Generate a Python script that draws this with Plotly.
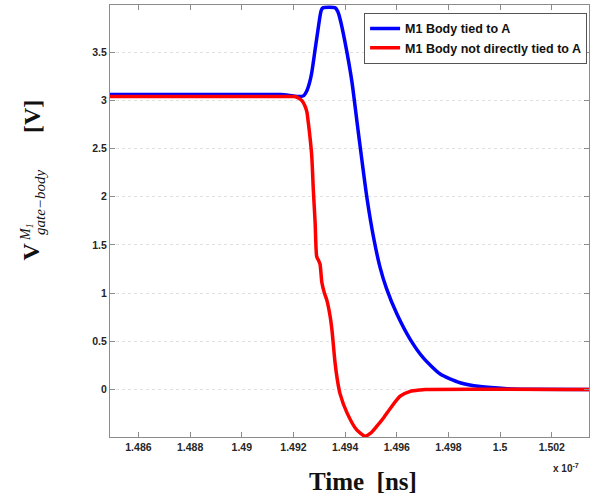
import plotly.graph_objects as go

# time axis in units of 1e-7 s
t_blue = [1.4849, 1.4900, 1.4915, 1.4920, 1.49225, 1.49240, 1.49252, 1.49262, 1.49271,
          1.49284, 1.49297, 1.49307, 1.49314, 1.49362, 1.49372, 1.49381, 1.49400, 1.49426,
          1.49445, 1.49465, 1.49485, 1.49510, 1.49535, 1.49560, 1.49601, 1.49652, 1.49702,
          1.49768, 1.49845, 1.49923, 1.50027, 1.5010, 1.50344]
v_blue = [3.06, 3.06, 3.06, 3.045, 3.04, 3.05, 3.10, 3.18, 3.29,
          3.53, 3.77, 3.93, 3.96, 3.96, 3.92, 3.84, 3.60, 3.20,
          2.80, 2.38, 1.98, 1.58, 1.27, 1.05, 0.78, 0.52, 0.33,
          0.16, 0.07, 0.03, 0.008, 0.002, 0.0]

t_red = [1.4849, 1.4915, 1.49205, 1.49219, 1.49232, 1.49245, 1.49252, 1.49258, 1.49264,
         1.49271, 1.49277, 1.49284, 1.49290, 1.49297, 1.49303, 1.49310, 1.49320, 1.49329,
         1.49342, 1.49349, 1.49355, 1.49361, 1.49370, 1.49380, 1.49407, 1.49445, 1.49477,
         1.49500, 1.49523, 1.49550, 1.49574, 1.49613, 1.49652, 1.49690, 1.49710, 1.50344]
v_red = [3.04, 3.04, 3.04, 3.025, 3.00, 2.94, 2.88, 2.76, 2.62,
         2.42, 2.07, 1.73, 1.38, 1.34, 1.30, 1.11, 1.00, 0.93,
         0.76, 0.62, 0.45, 0.28, 0.10, -0.04, -0.24, -0.42, -0.485,
         -0.45, -0.38, -0.29, -0.20, -0.07, -0.02, -0.005, 0.0, 0.0]

series_names = ["M1 Body tied to A", "M1 Body not directly tied to A"]

x_ticks = [1.486, 1.488, 1.490, 1.492, 1.494, 1.496, 1.498, 1.500, 1.502]
x_tick_labels = ["1.486", "1.488", "1.49", "1.492", "1.494", "1.496", "1.498", "1.5", "1.502"]
y_ticks = [0, 0.5, 1, 1.5, 2, 2.5, 3, 3.5]
y_tick_labels = ["0", "0.5", "1", "1.5", "2", "2.5", "3", "3.5"]

W, H = 604, 497
L, R, T, B = 110, 15, 5, 60
pw, ph = W - L - R, H - T - B

def px(x):
    return (x - L) / pw

def py(y):
    return (H - B - y) / ph

fig = go.Figure()
fig.add_trace(go.Scatter(x=t_blue, y=v_blue, mode="lines", name="<b>%s</b>" % series_names[0],
                         line=dict(color="#0000ff", width=3.5, shape="spline", smoothing=0.6)))
fig.add_trace(go.Scatter(x=t_red, y=v_red, mode="lines", name="<b>%s</b>" % series_names[1],
                         line=dict(color="#ff0000", width=3.5, shape="spline", smoothing=0.6)))

axis_col = "#8c8c8c"
tickfont = dict(family="Liberation Sans, Arial, sans-serif", size=10.5, color="#262626")

fig.update_xaxes(range=[1.4849, 1.50344], tickvals=x_ticks,
                 ticktext=["<b>%s</b>" % s for s in x_tick_labels],
                 showline=True, linecolor=axis_col, linewidth=1, mirror="ticks",
                 ticks="inside", ticklen=5, tickcolor=axis_col, showgrid=False,
                 zeroline=False, tickfont=tickfont)
fig.update_yaxes(range=[-0.493, 3.99], tickvals=y_ticks,
                 ticktext=["<b>%s</b>" % s for s in y_tick_labels],
                 showline=True, linecolor=axis_col, linewidth=1, mirror="ticks",
                 ticks="inside", ticklen=5, tickcolor=axis_col, showgrid=True,
                 gridcolor="#e0e0e0", griddash="dot", gridwidth=1,
                 zeroline=False, tickfont=tickfont)

serif = "Liberation Serif, Times New Roman, serif"
ann = []
# y-axis title pieces (rotated)
ann.append(dict(text="<b>V</b>", x=px(30.5), y=py(252), font=dict(family=serif, size=24, color="#111")))
ann.append(dict(text="<i>M<sub>1</sub></i>", x=px(26), y=py(232), font=dict(family=serif, size=14, color="#111")))
ann.append(dict(text="<i>gate\u2212body</i>", x=px(40), y=py(203), font=dict(family=serif, size=15, color="#111")))
ann.append(dict(text="<b>[V]</b>", x=px(32), y=py(117), font=dict(family=serif, size=24, color="#111")))
ann = [dict(a, xref="paper", yref="paper", showarrow=False, textangle=-90,
            xanchor="center", yanchor="middle") for a in ann]
# x title
ann.append(dict(text="<b>Time  [ns]</b>", x=px(363), y=py(481), xref="paper", yref="paper",
                showarrow=False, xanchor="center", yanchor="middle",
                font=dict(family=serif, size=25, color="#111")))
# exponent
ann.append(dict(text="<b>x 10<sup>-7</sup></b>", x=px(566), y=py(468), xref="paper", yref="paper",
                showarrow=False, xanchor="center", yanchor="middle",
                font=dict(family="Liberation Sans, Arial, sans-serif", size=10, color="#262626")))

fig.update_layout(
    width=W, height=H,
    margin=dict(l=L, r=R, t=T, b=B),
    paper_bgcolor="white", plot_bgcolor="white",
    annotations=ann,
    legend=dict(x=0.996, y=0.982, xanchor="right", yanchor="top",
                bgcolor="white", bordercolor="#555555", borderwidth=1,
                font=dict(family="Liberation Sans, Arial, sans-serif", size=12.5, color="#111"),
                tracegroupgap=0),
    showlegend=True,
)

fig.write_html("out.html", config={"displayModeBar": False},
               post_script="document.body.style.margin='0px';document.body.style.overflow='hidden';")
